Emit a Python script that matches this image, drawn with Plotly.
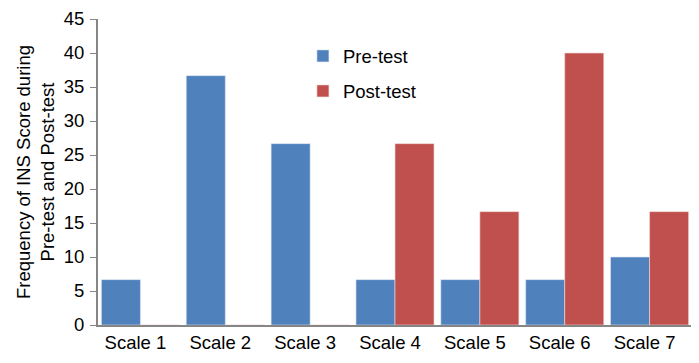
import plotly.graph_objects as go

categories = ["Scale 1", "Scale 2", "Scale 3", "Scale 4", "Scale 5", "Scale 6", "Scale 7"]
pre_test = [6.67, 36.67, 26.67, 6.67, 6.67, 6.67, 10.0]
post_test = [0, 0, 0, 26.67, 16.67, 40.0, 16.67]
y_ticks = [0, 5, 10, 15, 20, 25, 30, 35, 40, 45]

FONT = "Liberation Sans, Arial, sans-serif"

fig = go.Figure()
fig.add_trace(go.Bar(x=categories, y=pre_test, name="Pre-test", legendgroup="a",
                     marker=dict(color="#4F81BD", line=dict(color="#DCE6F2", width=0.6))))
fig.add_trace(go.Bar(x=categories, y=post_test, name="Post-test", legendgroup="b",
                     marker=dict(color="#C0504D", line=dict(color="#F2DCDB", width=0.6))))

fig.update_layout(
    width=691, height=355,
    margin=dict(l=90, r=7, t=11, b=38),
    paper_bgcolor="white", plot_bgcolor="white",
    barmode="group", bargap=0.08, bargroupgap=0,
    font=dict(family=FONT, color="#000000", size=18.5),
    legend=dict(x=0.345, y=0.94, xanchor="left", yanchor="top",
                bgcolor="rgba(0,0,0,0)", tracegroupgap=8,
                font=dict(size=18.5, family=FONT)),
    xaxis=dict(showline=True, linecolor="#868686", linewidth=2, ticks="",
               tickfont=dict(size=18.5), showgrid=False, ticklabelshift=-5,
               automargin=False),
    yaxis=dict(range=[0, 45], tickvals=y_ticks, showline=True, linecolor="#868686",
               linewidth=2, ticks="outside", ticklen=6, tickcolor="#868686",
               showgrid=False, zeroline=False, tickfont=dict(size=18.5),
               ticklabeloverflow="allow", ticklabelstandoff=2, automargin=False,
               title=dict(text="Frequency of INS Score during<br>Pre-test and Post-test",
                          font=dict(size=18.5), standoff=4)),
)

fig.write_html("out.html")
